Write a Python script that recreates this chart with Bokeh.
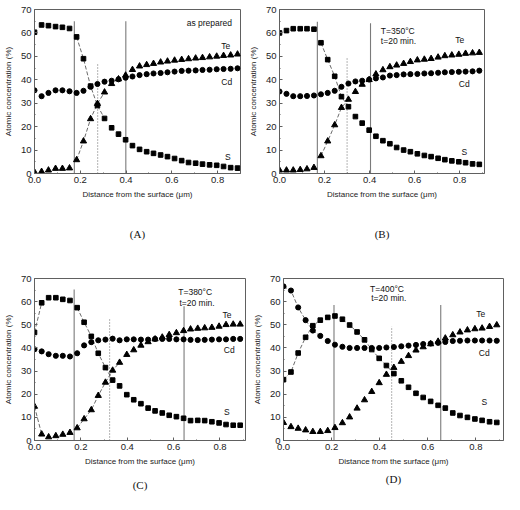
from bokeh.plotting import figure
from bokeh.layouts import column, row
from bokeh.models import (LinearAxis, FixedTicker, SingleIntervalTicker,
                          NumeralTickFormatter, Range1d)
from bokeh.embed import file_html
from bokeh.resources import INLINE
from bokeh.core.properties import value

# ---------------- data ----------------
depth = [0.000, 0.031, 0.061, 0.092, 0.122, 0.153, 0.184, 0.214, 0.245, 0.275,
         0.306, 0.337, 0.367, 0.398, 0.428, 0.459, 0.490, 0.520, 0.551, 0.581,
         0.612, 0.643, 0.673, 0.704, 0.734, 0.765, 0.796, 0.826, 0.857, 0.887]

# (A) as prepared
S_A = [60.3, 63.4, 63.1, 62.7, 62.4, 61.9, 58.3, 49.0, 37.3, 29.0, 23.5, 19.5, 16.8, 14.4, 11.9,
       10.3, 9.3, 8.6, 7.9, 7.2, 6.4, 5.5, 4.7, 4.4, 4.0, 3.7, 3.5, 3.0, 2.5, 2.3]
Te_A = [0.6, 0.8, 1.4, 2.1, 2.1, 2.3, 5.8, 13.8, 23.3, 29.8, 34.7, 38.3, 40.3, 41.9, 44.3,
        45.8, 46.4, 46.9, 47.5, 47.9, 48.3, 48.6, 48.9, 49.2, 49.4, 49.7, 50.0, 50.3, 50.5, 50.9]
Cd_A = [35.5, 33.0, 34.4, 35.5, 35.5, 35.1, 34.4, 35.3, 37.0, 38.2, 39.2, 39.6, 40.2, 40.9, 41.4,
        42.0, 42.4, 42.7, 42.9, 43.2, 43.5, 43.8, 43.9, 44.0, 44.2, 44.3, 44.5, 44.6, 44.7, 44.9]

# (B) T=350 C, 20 min
S_B = [60.0, 61.0, 61.8, 61.8, 61.8, 61.6, 55.8, 48.6, 41.5, 32.8, 28.5, 24.3, 21.5, 18.5, 15.9,
       14.0, 12.7, 11.1, 10.0, 9.3, 8.4, 7.7, 7.2, 6.5, 5.9, 5.4, 5.0, 4.6, 4.1, 3.9]
Te_B = [1.4, 1.4, 1.4, 1.6, 1.9, 2.5, 7.5, 13.8, 20.7, 28.1, 31.6, 34.9, 38.0, 40.0, 42.4,
        44.2, 45.5, 46.2, 46.9, 47.7, 48.4, 48.7, 49.0, 49.6, 50.2, 50.5, 50.8, 51.2, 51.4, 51.6]
Cd_B = [35.0, 34.0, 33.0, 33.0, 33.1, 33.3, 33.8, 34.4, 35.3, 37.0, 38.4, 39.3, 39.6, 40.1, 40.6,
        41.0, 41.8, 42.0, 42.3, 42.4, 42.5, 42.7, 42.8, 43.0, 43.2, 43.3, 43.4, 43.5, 43.6, 43.9]

# (C) T=380 C, 20 min
S_C = [46.7, 59.5, 61.7, 61.7, 61.0, 60.5, 57.4, 51.1, 45.0, 37.7, 31.5, 26.1, 23.6, 19.8, 17.6,
       15.9, 14.0, 12.8, 11.9, 10.9, 10.3, 9.6, 8.6, 8.7, 8.6, 8.1, 7.6, 6.9, 6.6, 6.6]
Te_C = [14.7, 2.7, 1.5, 2.0, 2.6, 3.4, 5.4, 9.3, 13.2, 19.4, 25.1, 30.3, 33.7, 37.1, 39.1,
        41.1, 42.6, 43.8, 44.6, 45.7, 46.5, 47.4, 48.1, 48.4, 48.6, 48.8, 49.3, 50.0, 50.2, 50.2]
Cd_C = [39.4, 38.5, 37.3, 36.6, 36.6, 36.3, 37.7, 41.1, 42.5, 43.3, 43.6, 44.0, 43.3, 43.7, 43.7,
        43.6, 43.6, 43.9, 43.9, 43.9, 43.7, 43.7, 43.5, 43.4, 43.5, 43.6, 43.7, 43.7, 43.9, 43.9]

# (D) T=400 C, 20 min
S_D = [26.3, 29.6, 37.8, 44.6, 49.6, 52.0, 53.2, 53.8, 52.4, 49.9, 46.9, 43.5, 39.3, 35.5, 32.4,
       28.9, 25.8, 23.0, 20.4, 18.6, 16.9, 15.2, 14.0, 11.9, 10.8, 10.0, 9.3, 8.7, 8.1, 7.8]
Te_D = [7.7, 5.9, 5.2, 4.5, 3.8, 3.8, 4.2, 5.5, 7.6, 10.1, 13.9, 17.5, 21.1, 24.9, 28.5,
        31.5, 34.1, 36.6, 39.0, 40.4, 41.7, 42.8, 44.2, 45.6, 46.8, 47.7, 48.2, 48.5, 49.2, 49.9]
Cd_D = [66.6, 64.8, 57.5, 52.0, 47.5, 45.2, 43.0, 41.4, 40.5, 40.0, 40.0, 40.0, 40.0, 40.0, 40.2,
        40.4, 40.7, 41.0, 41.3, 41.7, 41.9, 42.2, 42.6, 43.0, 43.1, 43.2, 43.2, 43.2, 43.2, 43.1]

# interface boundaries: solid lines (x, top) and dotted line (x, top)
solid_A, solid_top_A, dot_A, dot_top_A = [0.174, 0.399], [65.0, 65.0], [0.276], [47.2]
solid_B, solid_top_B, dot_B, dot_top_B = [0.168, 0.404], [64.8, 64.1], [0.300], [49.6]
solid_C, solid_top_C, dot_C, dot_top_C = [0.171, 0.645], [65.2, 58.0], [0.324], [52.5]
solid_D, solid_top_D, dot_D, dot_top_D = [0.210, 0.654], [58.6, 58.6], [0.450], [49.3]

# index ranges of the dashed guide curves: (series, first, last)
dash_A = [("S", 6, 10), ("Te", 6, 10)]
dash_B = [("S", 6, 10), ("Te", 6, 10)]
dash_C = [("S", 0, 1), ("S", 6, 11), ("Te", 0, 1), ("Te", 6, 12)]
dash_D = [("S", 0, 5), ("Cd", 0, 5), ("S", 8, 15)]

x_label = "Distance from the surface (\u03bcm)"
y_label = "Atomic concentration (%)"
y_ticks = [0, 10, 20, 30, 40, 50, 60, 70]
y_minor = [5, 15, 25, 35, 45, 55, 65]

# ---------------- drawing ----------------
SANS = "Liberation Sans"
SERIF = "Liberation Serif"


def panel(tag, S, Te, Cd, x_end, solid, solid_top, dot, dot_top, dashes,
          notes, w, h, bl, br, bt, bb, s2):
    p = figure(width=w, height=h, output_backend="svg", toolbar_location=None,
               x_range=Range1d(0, x_end), y_range=Range1d(0, 70),
               min_border_left=bl, min_border_right=br,
               min_border_top=bt, min_border_bottom=bb,
               x_axis_label=x_label, y_axis_label=y_label)
    p.grid.visible = False
    p.outline_line_color = "#606060"
    p.outline_line_width = 1
    p.background_fill_color = "white"
    p.border_fill_color = "white"

    p.xaxis.ticker = SingleIntervalTicker(interval=0.2, num_minor_ticks=2)
    p.xaxis.formatter = NumeralTickFormatter(format="0.0")
    p.yaxis.ticker = FixedTicker(ticks=y_ticks, minor_ticks=y_minor)
    for ax in (p.xaxis[0], p.yaxis[0]):
        ax.axis_line_color = "#606060"
        ax.major_tick_in = 3
        ax.major_tick_out = 0
        ax.minor_tick_in = 1
        ax.minor_tick_out = 0
        ax.major_tick_line_color = "#606060"
        ax.minor_tick_line_color = "#606060"
        ax.major_label_text_font = SANS
        ax.major_label_text_font_size = "9.5px"
        ax.major_label_text_color = "#222222"
        ax.axis_label_text_font = SANS
        ax.axis_label_text_font_size = "8px"
        ax.axis_label_text_font_style = "normal"
        ax.axis_label_text_color = "#222222"
    p.xaxis.major_label_standoff = 3
    p.xaxis.axis_label_standoff = 4
    p.yaxis.major_label_standoff = 3
    p.yaxis.axis_label_standoff = 5

    # panel tag below the x axis label
    tag_axis = LinearAxis(ticker=FixedTicker(ticks=[]), axis_label=tag,
                          axis_line_color=None, major_tick_line_color=None,
                          minor_tick_line_color=None, major_label_standoff=0,
                          major_label_text_font_size="0px",
                          axis_label_standoff=s2,
                          axis_label_text_font=SERIF,
                          axis_label_text_font_size="11px",
                          axis_label_text_font_style="normal",
                          axis_label_text_color="#111111")
    p.add_layout(tag_axis, "below")

    # boundaries
    p.segment(x0=solid, y0=[0] * len(solid), x1=solid, y1=solid_top,
              line_color="#7a7a7a", line_width=1.1)
    p.segment(x0=dot, y0=[0] * len(dot), x1=dot, y1=dot_top,
              line_color="#444444", line_width=0.8, line_dash="1 2")

    series = {"S": S, "Te": Te, "Cd": Cd}
    for name, a, b in dashes:
        p.line(depth[a:b + 1], series[name][a:b + 1], line_color="#444444",
               line_width=0.8, line_dash="4 2")

    p.scatter(depth, Cd, marker="circle", size=5.1, color="black")
    p.scatter(depth, Te, marker="triangle", size=6.2, color="black")
    p.scatter(depth, S, marker="square", size=4.6, color="black")

    for (tx, ty, txt, align) in notes:
        p.text(x=[tx], y=[ty], text=[txt], text_align=align, text_baseline="middle",
               text_font=value(SANS), text_font_size="8.5px", text_color="#111111")
    return p


pA = panel("(A)", S_A, Te_A, Cd_A, 0.90, solid_A, solid_top_A, dot_A, dot_top_A, dash_A,
           [(0.665, 64.2, "as prepared", "left"), (0.835, 54.4, "Te", "center"),
            (0.84, 38.9, "Cd", "center"), (0.845, 7.0, "S", "center")],
           245, 250, 33, 5, 4, 77, 26)
pB = panel("(B)", S_B, Te_B, Cd_B, 0.91, solid_B, solid_top_B, dot_B, dot_top_B, dash_B,
           [(0.45, 60.9, "T=350\u00b0C", "left"), (0.45, 56.4, "t=20 min.", "left"),
            (0.80, 56.8, "Te", "center"), (0.82, 38.2, "Cd", "center"),
            (0.82, 9.3, "S", "center")],
           259, 250, 28, 20, 9, 74, 26)
pC = panel("(C)", S_C, Te_C, Cd_C, 0.91, solid_C, solid_top_C, dot_C, dot_top_C, dash_C,
           [(0.62, 64.0, "T=380\u00b0C", "left"), (0.625, 59.5, "t=20 min.", "left"),
            (0.83, 54.4, "Te", "center"), (0.84, 39.0, "Cd", "center"),
            (0.83, 12.1, "S", "center")],
           249, 244, 28, 4, 25, 54, 10)
pD = panel("(D)", S_D, Te_D, Cd_D, 0.915, solid_D, solid_top_D, dot_D, dot_top_D, dash_D,
           [(0.36, 65.5, "T=400\u00b0C", "left"), (0.365, 61.4, "t=20 min.", "left"),
            (0.82, 54.5, "Te", "center"), (0.835, 37.6, "Cd", "center"),
            (0.835, 16.5, "S", "center")],
           255, 244, 28, 1, 28, 51, 4)

layout = column(row(pA, pB, spacing=0), row(pC, pD, spacing=0), spacing=0)

open("out.html", "w").write(file_html(layout, INLINE))
